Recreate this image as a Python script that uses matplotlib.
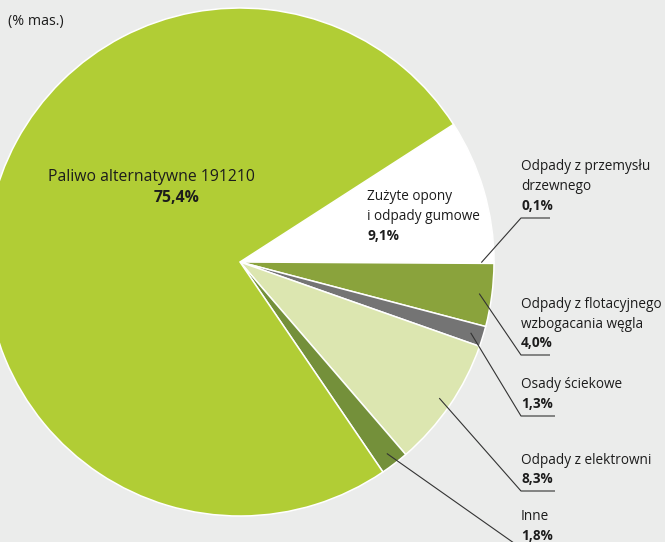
import matplotlib
matplotlib.use("Agg")
import matplotlib.pyplot as plt
import numpy as np

# Data (clockwise from the upper-right boundary)
categories = ["Zużyte opony i odpady gumowe", "Odpady z przemysłu drzewnego",
              "Odpady z flotacyjnego wzbogacania węgla", "Osady ściekowe",
              "Odpady z elektrowni", "Inne", "Paliwo alternatywne 191210"]
values = [9.1, 0.1, 4.0, 1.3, 8.3, 1.8, 75.4]
pct_labels = ["9,1%", "0,1%", "4,0%", "1,3%", "8,3%", "1,8%", "75,4%"]
colors = ["#FFFFFF", "#D6D6D6", "#8AA33C", "#747474", "#DCE6B0", "#74903A", "#B1CD35"]

W, H = 665, 542
BG = "#EBECEB"
fig = plt.figure(figsize=(W / 100, H / 100), dpi=100, facecolor=BG)
ax = fig.add_axes([0, 0, 1, 1])
ax.set_facecolor(BG)

cx, cy, R = 240, H - 262, 254
wedges, _ = ax.pie(values, colors=colors, startangle=32.8, counterclock=False,
                   center=(cx, cy), radius=R, frame=True,
                   wedgeprops=dict(edgecolor="white", linewidth=1.1))
ax.set_xlim(0, W)
ax.set_ylim(0, H)
ax.set_aspect("equal")
ax.axis("off")

FONT = ["Open Sans", "DejaVu Sans"]
FS = 9.8
TXT = "#1c1c1c"

def py(y):
    return H - y

def label(x, ys, lines, bold_last=True, ha="left"):
    for i, (y, t) in enumerate(zip(ys, lines)):
        bold = bold_last and i == len(lines) - 1
        ax.text(x, py(y), t, ha=ha, va="center", fontsize=FS, family=FONT,
                fontweight="bold" if bold else "normal", color=TXT)

ax.text(8, py(21), "(% mas.)", ha="left", va="center", fontsize=10.3, family=FONT, color=TXT)

# inside labels
ax.text(48, py(177), categories[6], ha="left", va="center", fontsize=11.3, family=FONT, color=TXT)
ax.text(177, py(198), pct_labels[6], ha="center", va="center", fontsize=11.3, family=FONT,
        fontweight="bold", color=TXT)
label(367, [196, 216, 236], ["Zużyte opony", "i odpady gumowe", pct_labels[0]])

# outside labels with leader lines
outside = [
    (1, ["Odpady z przemysłu", "drzewnego", pct_labels[1]], [167, 186, 206], 218, 550),
    (2, ["Odpady z flotacyjnego", "wzbogacania węgla", pct_labels[2]], [305, 324, 343], 355, 550),
    (3, ["Osady ściekowe", pct_labels[3]], [384, 404], 416, 555),
    (4, ["Odpady z elektrowni", pct_labels[4]], [460, 479], 491, 555),
    (5, ["Inne", pct_labels[5]], [516, 536], 548, 555),
]
for idx, lines, ys, uy, ux2 in outside:
    w = wedges[idx]
    mid = np.deg2rad((w.theta1 + w.theta2) / 2)
    px = cx + 0.95 * R * np.cos(mid)
    pyy = cy + 0.95 * R * np.sin(mid)
    label(521, ys, lines)
    ax.plot([px, 521, ux2], [pyy, py(uy), py(uy)], color="#333333", lw=0.8,
            solid_capstyle="butt", clip_on=False)

fig.savefig("out.png", dpi=100, facecolor=BG)
